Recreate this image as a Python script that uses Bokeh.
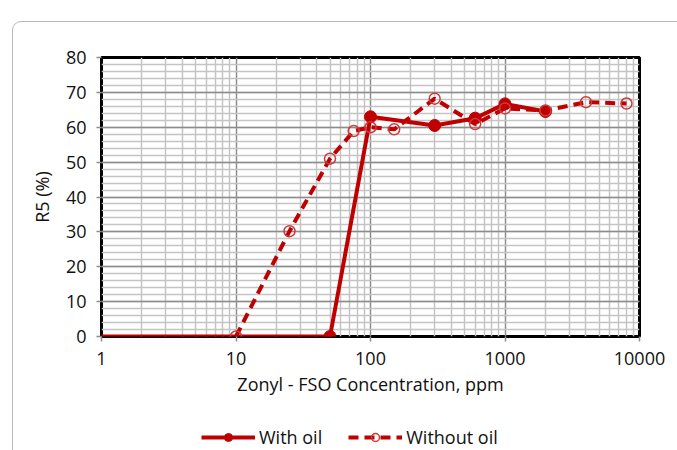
from bokeh.plotting import figure
from bokeh.layouts import column
from bokeh.models import (FixedTicker, PrintfTickFormatter, Legend, LegendItem,
                          ColumnDataSource, InlineStyleSheet)
from bokeh.embed import file_html
from bokeh.resources import INLINE

# ---- data ----
with_oil_x = [1, 50, 100, 300, 600, 1000, 2000]
with_oil_y = [0, 0, 63.0, 60.5, 62.6, 66.7, 64.5]
without_oil_x = [10, 25, 50, 75, 100, 150, 300, 600, 1000, 2000, 4000, 8000]
without_oil_y = [0, 30.2, 51.0, 58.9, 60.0, 59.4, 68.2, 60.9, 65.4, 64.8, 67.2, 66.8]
x_major_ticks = [1, 10, 100, 1000, 10000]
x_minor_ticks = [m * d for d in [1, 10, 100, 1000] for m in range(2, 10)]
y_major_ticks = list(range(0, 81, 10))
y_minor_ticks = list(range(0, 81, 2))
series_names = ["With oil", "Without oil"]

RED = "#C00000"
OPEN_RED = "#cc3a3a"
FONT = "Open Sans"
FS = "18px"

box_css = InlineStyleSheet(css="""
:host { position: relative; overflow: hidden; }
:host::after {
  content: ""; position: absolute; left: 12px; top: 21px;
  width: 720px; height: 520px; box-sizing: border-box;
  border: 1.5px solid #b9b9b9; border-radius: 9px;
  pointer-events: none; z-index: 10;
}
""")

p = figure(frame_width=538, frame_height=279, x_axis_type="log",
           x_range=(1, 10000), y_range=(0, 80),
           output_backend="svg", toolbar_location=None,
           min_border_left=101, min_border_right=38, min_border_top=57, min_border_bottom=75)
p.background_fill_color = "white"
p.border_fill_color = "white"
p.outline_line_color = "black"
p.outline_line_width = 3

# axes
p.xaxis.ticker = FixedTicker(ticks=x_major_ticks, minor_ticks=x_minor_ticks)
p.yaxis.ticker = FixedTicker(ticks=y_major_ticks, minor_ticks=y_minor_ticks)
p.xaxis.formatter = PrintfTickFormatter(format="%d")
for ax in (p.xaxis, p.yaxis):
    ax.axis_line_color = None
    ax.major_tick_line_color = "#8c8c8c"
    ax.major_tick_line_width = 1.5
    ax.major_tick_out = 5
    ax.major_tick_in = 0
    ax.minor_tick_line_color = None
    ax.major_label_text_font = FONT
    ax.major_label_text_font_size = FS
    ax.major_label_text_color = "#111111"
    ax.axis_label_text_font = FONT
    ax.axis_label_text_font_size = FS
    ax.axis_label_text_font_style = "normal"
    ax.axis_label_text_color = "#111111"
p.xaxis.axis_label = "Zonyl - FSO Concentration, ppm"
p.yaxis.axis_label = "R5 (%)"
p.xaxis.major_label_standoff = 10
p.yaxis.major_label_standoff = 10
p.xaxis.axis_label_standoff = 4
p.yaxis.axis_label_standoff = 9

# grids
for g in (p.xgrid, p.ygrid):
    g.grid_line_color = "#8c8c8c"
    g.grid_line_width = 1.5
    g.minor_grid_line_color = "#c4c4c4"
    g.minor_grid_line_width = 1.5
p.xgrid.ticker = p.xaxis.ticker
p.ygrid.ticker = p.yaxis.ticker

src1 = ColumnDataSource(dict(x=with_oil_x, y=with_oil_y))
src2 = ColumnDataSource(dict(x=without_oil_x, y=without_oil_y))
src1m = ColumnDataSource(dict(x=with_oil_x[1:], y=with_oil_y[1:]))


def add_series(fig):
    l1 = fig.line("x", "y", source=src1, line_color=RED, line_width=4)
    m1 = fig.scatter("x", "y", source=src1m, marker="circle", size=12,
                     fill_color=RED, line_color=RED)
    l2 = fig.line("x", "y", source=src2, line_color=RED, line_width=4, line_dash="10 6")
    m2 = fig.scatter("x", "y", source=src2, marker="circle", size=11,
                     fill_alpha=0, line_color=OPEN_RED, line_width=1.5)
    return l1, m1, l2, m2


add_series(p)

# legend strip below the chart (same series, out of its visible range)
q = figure(width=677, height=39, x_range=(-2, -1), y_range=(-2, -1),
           output_backend="svg", toolbar_location=None,
           min_border=0)
q.axis.visible = False
q.grid.visible = False
q.outline_line_color = None
q.background_fill_color = "white"
q.border_fill_color = "white"
l1, m1, l2, m2 = add_series(q)

legend = Legend(items=[LegendItem(label=series_names[0], renderers=[l1, m1]),
                       LegendItem(label=series_names[1], renderers=[l2, m2])],
                location=(100, 1), orientation="horizontal",
                glyph_width=54, glyph_height=20, label_standoff=4, spacing=26,
                padding=0, margin=0, border_line_color=None, background_fill_alpha=0,
                label_text_font=FONT, label_text_font_size=FS,
                label_text_color="#111111")
q.add_layout(legend)

layout = column(p, q, spacing=0, stylesheets=[box_css])

open("out.html", "w").write(file_html(layout, INLINE))
